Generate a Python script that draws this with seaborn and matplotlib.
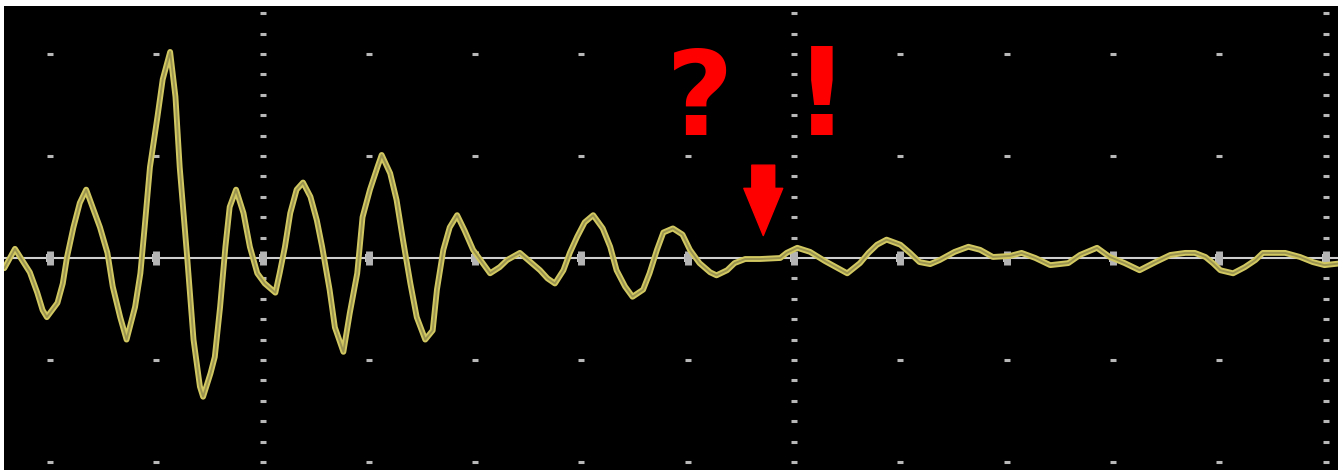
import numpy as np
import pandas as pd
import matplotlib
matplotlib.use("Agg")
import matplotlib.pyplot as plt
import seaborn as sns

# ---- Data (time and amplitude in screen divisions) ----
time_div = [
    -0.43, -0.33, -0.19, -0.12, -0.07, -0.03, 0.07, 0.12, 0.16, 0.22,
    0.28, 0.34, 0.40, 0.47, 0.54, 0.59, 0.66, 0.72, 0.80, 0.85,
    0.89, 0.94, 1.01, 1.06, 1.13, 1.18, 1.22, 1.29, 1.35, 1.41,
    1.44, 1.51, 1.55, 1.60, 1.65, 1.69, 1.75, 1.82, 1.88, 1.95,
    2.02, 2.12, 2.16, 2.21, 2.26, 2.32, 2.38, 2.45, 2.51, 2.56,
    2.63, 2.68, 2.76, 2.82, 2.89, 2.94, 3.01, 3.08, 3.12, 3.20,
    3.26, 3.32, 3.39, 3.45, 3.53, 3.60, 3.64, 3.70, 3.76, 3.83,
    3.90, 3.98, 4.05, 4.14, 4.23, 4.30, 4.42, 4.52, 4.61, 4.68,
    4.75, 4.83, 4.89, 4.96, 5.03, 5.11, 5.20, 5.27, 5.33, 5.41,
    5.48, 5.58, 5.64, 5.71, 5.77, 5.86, 5.95, 6.02, 6.11, 6.21,
    6.27, 6.37, 6.44, 6.54, 6.68, 6.87, 6.93, 7.03, 7.15, 7.29,
    7.50, 7.62, 7.70, 7.78, 7.87, 8.00, 8.09, 8.18, 8.28, 8.37,
    8.51, 8.64, 8.75, 8.87, 9.03, 9.14, 9.27, 9.41, 9.58, 9.69,
    9.85, 9.97, 10.11, 10.25, 10.40, 10.54, 10.68, 10.77, 10.87, 10.94,
    11.01, 11.13, 11.24, 11.34, 11.41, 11.62, 11.76, 11.88, 11.99, 12.16,
]
amplitude_div = [
    -0.10, 0.09, -0.14, -0.34, -0.51, -0.58, -0.44, -0.25, 0.01, 0.30,
    0.54, 0.67, 0.50, 0.30, 0.05, -0.28, -0.58, -0.80, -0.48, -0.15,
    0.30, 0.89, 1.38, 1.75, 2.02, 1.58, 0.89, 0.01, -0.80, -1.26,
    -1.36, -1.13, -0.97, -0.48, 0.11, 0.50, 0.67, 0.44, 0.11, -0.15,
    -0.25, -0.34, -0.15, 0.11, 0.44, 0.67, 0.74, 0.60, 0.37, 0.11,
    -0.31, -0.68, -0.92, -0.54, -0.15, 0.40, 0.67, 0.89, 1.01, 0.83,
    0.57, 0.18, -0.25, -0.58, -0.80, -0.71, -0.31, 0.08, 0.30, 0.42,
    0.27, 0.08, -0.02, -0.15, -0.09, -0.02, 0.05, -0.04, -0.12, -0.20,
    -0.25, -0.12, 0.05, 0.21, 0.35, 0.42, 0.29, 0.11, -0.12, -0.28,
    -0.38, -0.31, -0.15, 0.08, 0.25, 0.29, 0.23, 0.08, -0.05, -0.14,
    -0.17, -0.12, -0.05, -0.01, -0.01, 0.00, 0.05, 0.10, 0.06, -0.03,
    -0.15, -0.05, 0.05, 0.13, 0.18, 0.13, 0.05, -0.04, -0.06, -0.02,
    0.06, 0.11, 0.08, 0.01, 0.02, 0.05, 0.00, -0.07, -0.05, 0.03,
    0.10, 0.01, -0.05, -0.12, -0.04, 0.03, 0.05, 0.05, 0.01, -0.05,
    -0.12, -0.15, -0.09, -0.02, 0.05, 0.05, 0.01, -0.04, -0.07, -0.05,
]
assert len(time_div) == len(amplitude_div)

grid_columns = list(range(0, 13))
dense_columns = [2, 7, 12]
sparse_rows = [-2, -1, 1, 2]

annotation_texts = ["?", "!"]
annotation_x = [6.11, 7.26]
arrow_tip = (6.71, 0.22)
arrow_tail = (6.71, 0.91)

df = pd.DataFrame({"t": time_div, "v": amplitude_div})

# ---- Figure ----
sns.set_style("dark", {"axes.facecolor": "black", "figure.facecolor": "white"})
W, H = 1343, 471
fig = plt.figure(figsize=(W / 100, H / 100), dpi=100)
ax = fig.add_axes([4 / W, 1 / H, (1338 - 4) / W, (470 - 6) / H])
ax.set_facecolor("black")

# graticule dots
dot_kw = dict(marker="_", ms=5, mew=2.2, color="#b8b8b8", ls="none", zorder=1)
for c in grid_columns:
    if c in dense_columns:
        ys = np.arange(-2.0, 2.41, 0.2)
        ys = ys[np.abs(ys) > 0.05]
    else:
        ys = np.array(sparse_rows, dtype=float)
    ax.plot(np.full_like(ys, c), ys, **dot_kw)

# centre line with ticks
ax.axhline(0, color="#cfcfcf", lw=1.5, zorder=2)
ax.plot(grid_columns, [0] * len(grid_columns), marker="s", ms=6, mew=0,
        color="#c4c4c4", ls="none", zorder=2)
ax.plot(grid_columns, [0] * len(grid_columns), marker="|", ms=10, mew=5,
        color="#b4b4b4", ls="none", zorder=2)

# trace
sns.lineplot(data=df, x="t", y="v", sort=False, estimator=None, ax=ax,
             color="#d2c862", lw=4.2, zorder=3)
ax.plot(time_div, amplitude_div, color="#9a9450", lw=1.4, zorder=4)

# annotations
ax.text(annotation_x[0], 1.21, annotation_texts[0], color="#ff0000",
        fontsize=84, fontweight="bold", ha="center", va="baseline", zorder=5)
ax.text(annotation_x[1], 1.21, annotation_texts[1], color="#ff0000",
        fontsize=88, fontweight="bold", ha="center", va="baseline", zorder=5)
ax.annotate("", xy=arrow_tip, xytext=arrow_tail,
            arrowprops=dict(arrowstyle="simple,head_width=2.8,head_length=3.4,tail_width=1.65",
                            color="#ff0000", shrinkA=0, shrinkB=0, mutation_scale=10),
            zorder=5)

ax.set_xlim(-0.433, 12.117)
ax.set_ylim(-2.078, 2.47)
ax.set_xticks([])
ax.set_yticks([])
ax.set_xlabel("")
ax.set_ylabel("")
for s in ax.spines.values():
    s.set_visible(False)

fig.savefig("out.png", dpi=100, facecolor="white")
